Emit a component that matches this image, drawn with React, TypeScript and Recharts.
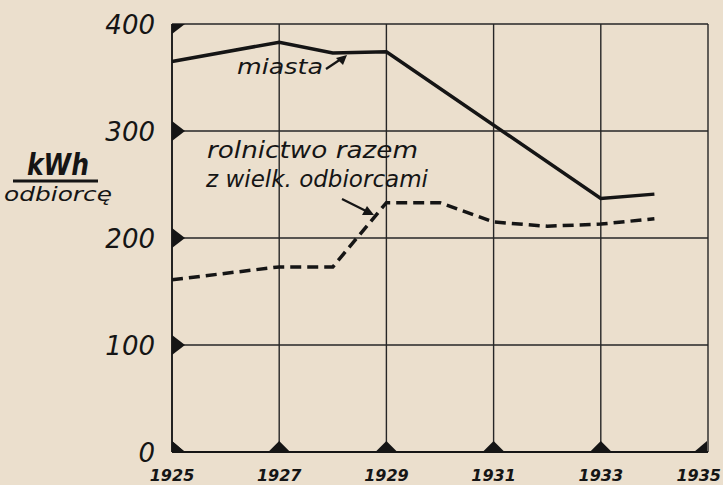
import { LineChart, Line, XAxis, YAxis, CartesianGrid } from "recharts";

const years = [1925, 1926, 1927, 1928, 1929, 1930, 1931, 1932, 1933, 1934];
// kWh per consumer
const miasta = [365, null, 383, 373, 374, null, null, null, 237, 241];
const rolnictwo = [161, null, 173, 173, 233, 233, 215, 211, 213, 218];
const xTicks = [1925, 1927, 1929, 1931, 1933, 1935];
const yTicks = [0, 100, 200, 300, 400];

const data = years.map((year, i) => ({
  year,
  miasta: miasta[i],
  rolnictwo: rolnictwo[i],
}));

const INK = "#151515";
const FONT = "'DejaVu Sans', sans-serif";

const YTick = (props: any) => {
  const { x, y, payload } = props;
  const v = payload.value;
  let pts = `${x},${y - 10} ${x + 13},${y} ${x},${y + 10}`;
  if (v === 400) pts = `${x},${y} ${x + 13},${y} ${x},${y + 10}`;
  if (v === 0) pts = `${x},${y - 11} ${x + 13},${y} ${x},${y}`;
  return (
    <g>
      <polygon points={pts} fill={INK} />
      <text
        x={x - 17}
        y={y + 9.5}
        textAnchor="end"
        fontFamily={FONT}
        fontStyle="italic"
        fontSize={26}
        fill={INK}
      >
        {v}
      </text>
    </g>
  );
};

const XTick = (props: any) => {
  const { x, y, payload } = props;
  const v = payload.value;
  let pts = `${x - 11},${y} ${x},${y - 11} ${x + 11},${y}`;
  if (v === 1925) pts = `${x},${y} ${x},${y - 11} ${x + 13},${y}`;
  if (v === 1935) pts = `${x - 13},${y} ${x},${y - 11} ${x},${y}`;
  return (
    <g>
      <polygon points={pts} fill={INK} />
      <text
        x={v === 1935 ? x + 14 : x}
        y={y + 29}
        textAnchor={v === 1935 ? "end" : "middle"}
        fontFamily={FONT}
        fontStyle="italic"
        fontWeight="bold"
        fontSize={16}
        fill={INK}
      >
        {v}
      </text>
    </g>
  );
};

export default function App() {
  const txt = { fontFamily: FONT, fontStyle: "italic" as const, fill: INK };
  return (
    <div
      style={{
        position: "absolute",
        left: 0,
        top: 0,
        width: 723,
        height: 485,
        background: "#ebdfcd",
      }}
    >
      <LineChart
        width={723}
        height={485}
        data={data}
        margin={{ top: 24, right: 15, bottom: 0, left: 0 }}
      >
        <CartesianGrid stroke="#262626" strokeWidth={1.4} />
        <XAxis
          dataKey="year"
          type="number"
          domain={[1925, 1935]}
          ticks={xTicks}
          height={33}
          tickSize={0}
          tickMargin={0}
          tick={XTick}
          axisLine={{ stroke: INK, strokeWidth: 2 }}
        />
        <YAxis
          domain={[0, 400]}
          ticks={yTicks}
          width={172}
          tickSize={0}
          tickMargin={0}
          tick={YTick}
          axisLine={{ stroke: INK, strokeWidth: 1.6 }}
        />
        <Line
          dataKey="miasta"
          type="linear"
          stroke={INK}
          strokeWidth={3.5}
          dot={false}
          connectNulls
          isAnimationActive={false}
        />
        <Line
          dataKey="rolnictwo"
          type="linear"
          stroke={INK}
          strokeWidth={3.5}
          strokeDasharray="11 6"
          dot={false}
          connectNulls
          isAnimationActive={false}
        />
      </LineChart>
      <svg
        width={723}
        height={485}
        style={{ position: "absolute", left: 0, top: 0, pointerEvents: "none" }}
      >
        {/* axis unit */}
        <text x={27} y={175} fontSize={30} fontWeight="bold" textLength={62} lengthAdjust="spacingAndGlyphs" {...txt}>
          kWh
        </text>
        <line x1={13} y1={181} x2={98} y2={181} stroke={INK} strokeWidth={3} />
        <text x={4} y={201} fontSize={19} textLength={108} lengthAdjust="spacingAndGlyphs" {...txt}>
          odbiorcę
        </text>

        {/* miasta label */}
        <text x={237} y={74} fontSize={22} textLength={86} lengthAdjust="spacingAndGlyphs" {...txt}>
          miasta
        </text>
        <line x1={326} y1={69} x2={341} y2={59} stroke={INK} strokeWidth={2.2} />
        <polygon points="347,55 336,58 343,65" fill={INK} />

        {/* rolnictwo label */}
        <text x={207} y={158} fontSize={23} textLength={211} lengthAdjust="spacingAndGlyphs" {...txt}>
          rolnictwo razem
        </text>
        <text x={206} y={187} fontSize={23} textLength={222} lengthAdjust="spacingAndGlyphs" {...txt}>
          z wielk. odbiorcami
        </text>
        <line x1={342} y1={199} x2={366} y2={211} stroke={INK} strokeWidth={2.2} />
        <polygon points="374,215 362,215 367,206" fill={INK} />
      </svg>
    </div>
  );
}
